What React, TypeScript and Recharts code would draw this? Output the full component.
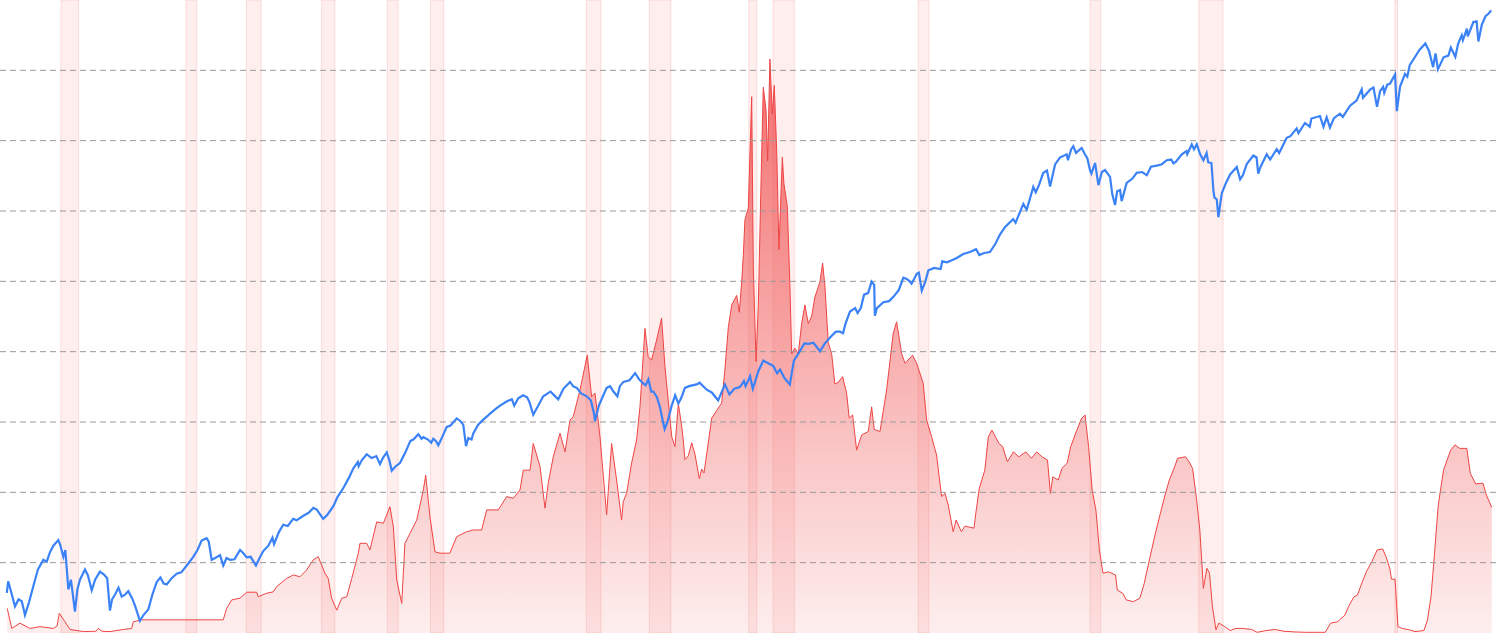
import React from "react";
import {
  ComposedChart,
  Area,
  Line,
  XAxis,
  YAxis,
  ReferenceArea,
  ReferenceLine,
} from "recharts";

// S&P 500 level (log axis), [decimal year, index]
const spx: [number, number][] = [
  [1933.97, 10.0], [1934.06, 11.4], [1934.2, 10.4], [1934.48, 8.6], [1934.7, 9.3], [1934.9, 9.1],
  [1935.1, 7.8], [1935.35, 9.0], [1935.62, 10.8], [1935.9, 13.0], [1936.24, 14.5], [1936.45, 14.2],
  [1936.65, 15.8], [1936.86, 17.0], [1937.17, 18.1], [1937.3, 17.0], [1937.48, 15.0], [1937.6, 16.2],
  [1937.79, 10.4], [1937.95, 11.6], [1938.2, 8.1], [1938.35, 10.4], [1938.51, 11.6], [1938.82, 13.0],
  [1939.0, 12.2], [1939.24, 10.3], [1939.45, 11.6], [1939.75, 12.7], [1940.0, 12.3], [1940.2, 11.8],
  [1940.37, 8.2], [1940.5, 9.3], [1940.68, 9.8], [1940.9, 10.6], [1941.1, 9.6], [1941.3, 9.8],
  [1941.51, 10.2], [1941.75, 9.4], [1941.92, 8.7], [1942.23, 7.3], [1942.45, 7.8], [1942.75, 8.3],
  [1943.0, 9.8], [1943.27, 11.3], [1943.5, 11.9], [1943.7, 11.1], [1943.89, 11.0], [1944.2, 11.8],
  [1944.51, 12.4], [1944.8, 12.6], [1945.13, 13.6], [1945.54, 15.0], [1945.8, 16.2], [1946.06, 18.0],
  [1946.37, 18.5], [1946.5, 17.8], [1946.68, 14.5], [1946.9, 14.8], [1947.2, 15.3], [1947.4, 13.6],
  [1947.6, 14.8], [1947.82, 14.5], [1948.1, 14.6], [1948.44, 16.2], [1948.65, 15.6], [1948.85, 14.9],
  [1949.1, 15.0], [1949.43, 13.6], [1949.65, 14.8], [1949.88, 16.0], [1950.2, 17.0], [1950.45, 18.6],
  [1950.55, 17.3], [1950.85, 19.8], [1951.12, 21.5], [1951.4, 21.2], [1951.74, 23.0], [1951.95, 22.6],
  [1952.37, 23.8], [1952.7, 24.6], [1952.99, 26.0], [1953.2, 25.5], [1953.6, 23.0], [1953.85, 24.0],
  [1954.23, 26.5], [1954.5, 29.5], [1954.85, 32.5], [1955.2, 36.5], [1955.47, 40.5], [1955.75, 43.5],
  [1955.8, 41.5], [1956.0, 44.5], [1956.3, 47.5], [1956.6, 45.5], [1956.9, 46.5], [1957.12, 42.5],
  [1957.3, 45.5], [1957.54, 48.5], [1957.7, 44.5], [1957.85, 39.5], [1958.1, 41.5], [1958.36, 43],
  [1958.7, 48.5], [1959.0, 55], [1959.19, 56], [1959.5, 59.5], [1959.7, 56.5], [1959.81, 57.5],
  [1960.1, 56], [1960.3, 54], [1960.43, 56.5], [1960.6, 55], [1960.74, 52.5], [1961.0, 58],
  [1961.26, 64.5], [1961.5, 65.5], [1961.88, 71], [1962.1, 69], [1962.29, 66], [1962.46, 52],
  [1962.6, 57], [1962.8, 56], [1962.91, 60], [1963.2, 66], [1963.53, 70], [1963.8, 73],
  [1963.95, 75], [1964.3, 79], [1964.57, 82], [1965.0, 86], [1965.3, 88], [1965.45, 82],
  [1965.7, 89], [1966.0, 92], [1966.25, 90], [1966.4, 85], [1966.63, 74], [1966.9, 81],
  [1967.25, 91], [1967.7, 96], [1967.87, 93], [1968.18, 88], [1968.5, 99], [1968.91, 107],
  [1969.1, 102], [1969.33, 100], [1969.6, 94], [1969.95, 91], [1970.2, 87], [1970.4, 75],
  [1970.46, 69], [1970.7, 82], [1970.95, 91], [1971.18, 100], [1971.4, 102], [1971.6, 96],
  [1971.85, 91], [1972.0, 102], [1972.22, 107], [1972.6, 109], [1972.95, 118], [1973.2, 110],
  [1973.46, 105], [1973.6, 103], [1973.77, 110], [1973.95, 96], [1974.08, 96], [1974.3, 90],
  [1974.5, 80], [1974.65, 70], [1974.78, 63], [1974.95, 68], [1975.22, 82], [1975.43, 92],
  [1975.63, 84], [1975.8, 89], [1976.04, 100], [1976.3, 102], [1976.76, 104], [1976.95, 106],
  [1977.39, 98], [1977.7, 95], [1978.1, 87], [1978.52, 104], [1978.8, 93], [1979.1, 99],
  [1979.45, 101], [1979.7, 108], [1979.8, 102], [1980.08, 114], [1980.25, 99], [1980.6, 121],
  [1980.9, 136], [1981.2, 132], [1981.52, 128], [1981.75, 118], [1981.94, 123], [1982.2, 112],
  [1982.55, 104], [1982.68, 120], [1982.8, 136], [1983.1, 148], [1983.45, 165], [1983.7, 164],
  [1984.01, 166], [1984.42, 151], [1984.7, 164], [1985.04, 176], [1985.4, 188], [1985.66, 188],
  [1985.85, 185], [1986.0, 206], [1986.28, 236], [1986.6, 245], [1986.75, 232], [1986.95, 245],
  [1987.15, 285], [1987.4, 290], [1987.62, 330], [1987.78, 318], [1987.82, 225], [1987.95, 245],
  [1988.35, 262], [1988.7, 265], [1988.97, 278], [1989.3, 300], [1989.59, 345], [1989.8, 340],
  [1990.0, 330], [1990.1, 322], [1990.42, 360], [1990.55, 365], [1990.73, 298], [1990.95, 330],
  [1991.14, 375], [1991.5, 385], [1991.9, 380], [1992.0, 415], [1992.3, 410], [1992.6, 420],
  [1992.9, 430], [1993.3, 450], [1993.72, 460], [1994.1, 475], [1994.3, 445], [1994.6, 455],
  [1994.96, 460], [1995.3, 505], [1995.58, 560], [1995.9, 610], [1996.4, 665], [1996.55, 640],
  [1997.03, 790], [1997.24, 740], [1997.65, 955], [1997.8, 900], [1998.0, 975], [1998.27, 1120],
  [1998.5, 1150], [1998.69, 960], [1999.0, 1230], [1999.3, 1330], [1999.72, 1380], [1999.8, 1290],
  [2000.0, 1460], [2000.13, 1510], [2000.3, 1400], [2000.65, 1480], [2000.85, 1380], [2001.0, 1320],
  [2001.17, 1150], [2001.25, 1110], [2001.48, 1250], [2001.69, 975], [2001.9, 1130], [2002.1, 1156],
  [2002.41, 1070], [2002.55, 880], [2002.72, 780], [2002.85, 910], [2003.03, 923], [2003.13, 815],
  [2003.44, 1000], [2003.8, 1050], [2004.06, 1120], [2004.4, 1130], [2004.69, 1090], [2004.95, 1200],
  [2005.3, 1215], [2005.6, 1230], [2005.93, 1290], [2006.2, 1300], [2006.34, 1245], [2006.5, 1270],
  [2006.86, 1380], [2007.15, 1430], [2007.2, 1380], [2007.48, 1540], [2007.62, 1460], [2007.79, 1545],
  [2008.0, 1380], [2008.2, 1290], [2008.4, 1400], [2008.5, 1260], [2008.7, 1250], [2008.82, 923],
  [2008.88, 850], [2009.03, 830], [2009.13, 680], [2009.34, 890], [2009.6, 1000], [2009.86, 1100],
  [2010.27, 1195], [2010.48, 1040], [2010.65, 1090], [2010.9, 1240], [2011.3, 1360], [2011.5, 1330],
  [2011.6, 1110], [2011.75, 1200], [2012.13, 1380], [2012.34, 1300], [2012.75, 1460], [2012.9, 1400],
  [2013.37, 1660], [2013.6, 1690], [2013.99, 1845], [2014.1, 1750], [2014.5, 1960], [2014.8, 1880],
  [2014.9, 2060], [2015.43, 2120], [2015.65, 1880], [2015.85, 2090], [2016.05, 1860], [2016.3, 2070],
  [2016.67, 2175], [2016.85, 2100], [2017.3, 2380], [2017.7, 2520], [2018.02, 2860], [2018.1, 2600],
  [2018.54, 2850], [2018.75, 2920], [2018.97, 2350], [2019.16, 2800], [2019.35, 2940], [2019.42, 2750],
  [2019.6, 3010], [2019.78, 3050], [2020.09, 3380], [2020.2, 2240], [2020.4, 2950], [2020.71, 3400],
  [2020.85, 3300], [2021.0, 3750], [2021.23, 4000], [2021.6, 4450], [2021.97, 4790], [2022.2, 4400],
  [2022.45, 3670], [2022.6, 4280], [2022.75, 3580], [2023.1, 4100], [2023.4, 4180], [2023.55, 4580],
  [2023.83, 4120], [2024.0, 4770], [2024.23, 5250], [2024.3, 4970], [2024.55, 5650], [2024.6, 5180],
  [2024.95, 6090], [2025.15, 6140], [2025.26, 4900], [2025.47, 5900], [2025.7, 6500], [2025.9, 6700],
  [2026.05, 6950],
];

// 3-month T-bill rate in %, [decimal year, rate]
const tbill: [number, number][] = [
  [1934.0, 0.7], [1934.28, 0.13], [1934.79, 0.28], [1935.41, 0.13], [1936.03, 0.18], [1936.53, 0.15],
  [1936.86, 0.13], [1937.09, 0.2], [1937.23, 0.56], [1937.58, 0.32], [1937.89, 0.1], [1938.72, 0.04],
  [1939.5, 0.05], [1939.65, 0.13], [1939.88, 0.05], [1940.37, 0.04], [1941.2, 0.1], [1941.72, 0.13],
  [1941.82, 0.32], [1942.34, 0.375], [1947.4, 0.375], [1947.61, 0.7], [1947.92, 0.94], [1948.44, 0.99],
  [1948.85, 1.16], [1949.47, 1.16], [1949.57, 1.03], [1950.09, 1.13], [1950.5, 1.17], [1950.71, 1.32],
  [1951.33, 1.55], [1951.74, 1.65], [1952.16, 1.6], [1952.57, 1.79], [1952.98, 2.08], [1953.29, 2.17],
  [1953.71, 1.7], [1953.91, 1.55], [1954.12, 0.99], [1954.44, 0.65], [1954.75, 0.99], [1955.06, 1.03],
  [1955.37, 1.55], [1955.78, 2.27], [1955.88, 2.55], [1956.3, 2.55], [1956.5, 2.36], [1956.92, 3.16],
  [1957.33, 3.12], [1957.74, 3.59], [1957.95, 3.02], [1958.16, 1.51], [1958.47, 0.84], [1958.67, 2.55],
  [1958.98, 2.83], [1959.4, 3.21], [1959.81, 4.07], [1959.96, 4.49], [1960.22, 3.31], [1960.53, 2.31],
  [1960.84, 2.27], [1961.46, 2.27], [1961.88, 2.74], [1962.5, 2.88], [1962.91, 2.93], [1963.43, 2.93],
  [1963.74, 3.5], [1964.46, 3.5], [1964.98, 3.88], [1965.39, 3.83], [1965.81, 4.07], [1966.01, 4.63],
  [1966.43, 4.63], [1966.63, 5.39], [1967.05, 4.73], [1967.36, 3.55], [1967.56, 4.26], [1967.87, 5.01],
  [1968.29, 5.68], [1968.6, 5.15], [1968.91, 6.06], [1969.11, 6.15], [1969.53, 6.91], [1969.98, 7.9],
  [1970.25, 6.72], [1970.46, 6.82], [1970.77, 5.58], [1971.18, 3.36], [1971.49, 5.39], [1971.8, 4.35],
  [1972.11, 3.21], [1972.21, 3.73], [1972.42, 3.97], [1972.73, 4.83], [1973.04, 5.49], [1973.25, 6.43],
  [1973.56, 8.66], [1973.76, 7.86], [1973.97, 7.76], [1974.28, 8.33], [1974.59, 8.95], [1974.8, 7.57],
  [1975.22, 5.58], [1975.42, 5.3], [1975.63, 6.53], [1975.84, 5.87], [1975.94, 5.46], [1976.04, 4.93],
  [1976.25, 5.04], [1976.46, 5.41], [1976.66, 5.09], [1976.93, 4.39], [1977.08, 4.66], [1977.22, 4.55],
  [1977.39, 5.09], [1977.7, 6.11], [1978.01, 6.33], [1978.32, 6.54], [1978.52, 7.5], [1978.73, 8.69],
  [1978.94, 9.33], [1979.25, 9.6], [1979.41, 9.12], [1979.56, 9.98], [1979.66, 10.73], [1979.76, 11.75],
  [1979.97, 12.08], [1980.18, 15.25], [1980.28, 10.41], [1980.45, 7.72], [1980.59, 9.33], [1980.8, 13.64],
  [1980.9, 15.52], [1981.07, 14.87], [1981.17, 13.42], [1981.31, 16.32], [1981.46, 14.76], [1981.58, 15.57],
  [1981.73, 13.74], [1981.87, 10.9], [1982.08, 13.53], [1982.18, 12.78], [1982.39, 12.13], [1982.55, 9.88],
  [1982.66, 7.94], [1982.86, 8.1], [1983.07, 7.94], [1983.28, 8.8], [1983.48, 9.33], [1983.69, 8.8],
  [1983.9, 9.01], [1984.1, 9.55], [1984.41, 9.98], [1984.58, 10.52], [1984.72, 9.88], [1984.93, 8.26],
  [1985.14, 7.94], [1985.34, 7.08], [1985.55, 7.13], [1985.82, 7.29], [1986.07, 6.81], [1986.23, 6.11],
  [1986.44, 6.2], [1986.69, 5.2], [1987.0, 5.63], [1987.41, 5.73], [1987.62, 6.43], [1987.78, 5.79],
  [1988.14, 5.73], [1988.55, 6.91], [1988.96, 8.52], [1989.17, 8.85], [1989.48, 7.95], [1989.69, 7.67],
  [1990.16, 7.9], [1990.41, 7.67], [1990.82, 7.1], [1991.03, 6.06], [1991.34, 5.58], [1991.65, 5.06],
  [1991.96, 3.88], [1992.17, 3.97], [1992.37, 3.64], [1992.68, 2.88], [1992.86, 3.21], [1993.19, 2.88],
  [1993.41, 3.04], [1993.97, 2.98], [1994.08, 3.4], [1994.3, 4.11], [1994.64, 4.63], [1994.86, 5.58],
  [1995.08, 5.77], [1995.52, 5.39], [1995.75, 5.3], [1996.04, 4.87], [1996.42, 5.15], [1996.75, 5.01],
  [1997.19, 5.15], [1997.53, 4.97], [1997.86, 5.15], [1998.2, 5.01], [1998.53, 4.92], [1998.71, 3.97],
  [1998.86, 4.44], [1999.2, 4.35], [1999.42, 4.68], [1999.75, 4.83], [1999.97, 5.3], [2000.31, 5.72],
  [2000.64, 6.1], [2000.86, 6.2], [2001.08, 5.3], [2001.3, 4.07], [2001.53, 3.5], [2001.75, 2.36],
  [2001.97, 1.7], [2002.31, 1.74], [2002.75, 1.65], [2002.86, 1.22], [2003.2, 1.13], [2003.42, 0.94],
  [2003.86, 0.89], [2004.26, 0.99], [2004.53, 1.41], [2004.87, 2.12], [2005.2, 2.79], [2005.53, 3.4],
  [2005.82, 3.92], [2006.09, 4.35], [2006.42, 4.73], [2006.6, 4.97], [2007.09, 5.01], [2007.31, 4.87],
  [2007.53, 4.68], [2007.76, 3.88], [2007.98, 2.93], [2008.2, 1.27], [2008.42, 1.84], [2008.58, 1.7],
  [2008.76, 0.75], [2008.98, 0.09], [2009.16, 0.28], [2009.53, 0.18], [2009.86, 0.07], [2010.2, 0.13],
  [2010.64, 0.13], [2011.2, 0.1], [2011.53, 0.02], [2012.09, 0.07], [2012.64, 0.1], [2013.2, 0.05],
  [2013.87, 0.03], [2014.54, 0.02], [2015.76, 0.02], [2016.09, 0.28], [2016.53, 0.32], [2016.98, 0.51],
  [2017.2, 0.75], [2017.54, 1.03], [2017.76, 1.08], [2017.98, 1.36], [2018.31, 1.74], [2018.65, 2.03],
  [2018.98, 2.36], [2019.32, 2.39], [2019.53, 2.17], [2019.76, 1.84], [2019.87, 1.53], [2020.09, 1.53],
  [2020.27, 0.18], [2020.54, 0.13], [2020.98, 0.09], [2021.32, 0.04], [2021.88, 0.07], [2022.1, 0.37],
  [2022.32, 1.03], [2022.54, 2.27], [2022.76, 3.59], [2022.94, 4.16], [2023.1, 4.63], [2023.32, 4.92],
  [2023.54, 5.2], [2023.81, 5.35], [2024.1, 5.25], [2024.54, 5.25], [2024.76, 4.54], [2025.09, 4.24],
  [2025.54, 4.26], [2025.76, 3.92], [2026.09, 3.57],
];

// US recessions, [start, end] in decimal years
const recessions: [number, number][] = [
  [1937.33, 1938.42], [1945.08, 1945.75], [1948.83, 1949.75], [1953.5, 1954.33],
  [1957.58, 1958.25], [1960.25, 1961.08], [1969.92, 1970.83], [1973.83, 1975.17],
  [1980.0, 1980.5], [1981.5, 1982.83], [1990.5, 1991.17], [2001.17, 2001.83],
  [2007.92, 2009.42], [2020.08, 2020.25],
];

const rateTicks = [2, 4, 6, 8, 10, 12, 14, 16];

const table = [
  ...spx.map(([t, v]) => ({ t, sp: v as number | null, rate: null as number | null })),
  ...tbill.map(([t, r]) => ({ t, sp: null as number | null, rate: r as number | null })),
].sort((a, b) => a.t - b.t);

export default function App() {
  return (
    <div style={{ position: "absolute", left: 0, top: 0, width: 1500, height: 633 }}>
      <ComposedChart width={1500} height={633} data={table} margin={{ top: 0, right: 0, bottom: 0, left: 0 }}>
        <defs>
          <linearGradient id="rateFill" x1="0" y1="0" x2="0" y2="1">
            <stop offset="0%" stopColor="#ef4444" stopOpacity={0.78} />
            <stop offset="100%" stopColor="#ef4444" stopOpacity={0.09} />
          </linearGradient>
        </defs>
        <XAxis dataKey="t" type="number" domain={[1933.55, 2026.6]} allowDataOverflow hide />
        <YAxis yAxisId="rate" type="number" domain={[0, 18]} allowDataOverflow hide />
        <YAxis yAxisId="sp" type="number" scale="log" domain={[6.375, 7802]} allowDataOverflow hide />
        {recessions.map(([a, b], i) => (
          <ReferenceArea
            key={`r${i}`}
            yAxisId="rate"
            x1={a}
            x2={b}
            fill="#ef4444"
            fillOpacity={0.09}
            stroke="#ef4444"
            strokeOpacity={0.15}
          />
        ))}
        {rateTicks.map((v) => (
          <ReferenceLine key={`g${v}`} yAxisId="rate" y={v} stroke="#999" strokeDasharray="6 4" />
        ))}
        <Area
          yAxisId="rate"
          type="linear"
          dataKey="rate"
          stroke="#ef4444"
          strokeWidth={1}
          fill="url(#rateFill)"
          fillOpacity={1}
          connectNulls
          dot={false}
          activeDot={false}
          isAnimationActive={false}
        />
        <Line
          yAxisId="sp"
          type="linear"
          dataKey="sp"
          stroke="#3b82f6"
          strokeWidth={2.2}
          connectNulls
          dot={false}
          activeDot={false}
          isAnimationActive={false}
        />
      </ComposedChart>
    </div>
  );
}
